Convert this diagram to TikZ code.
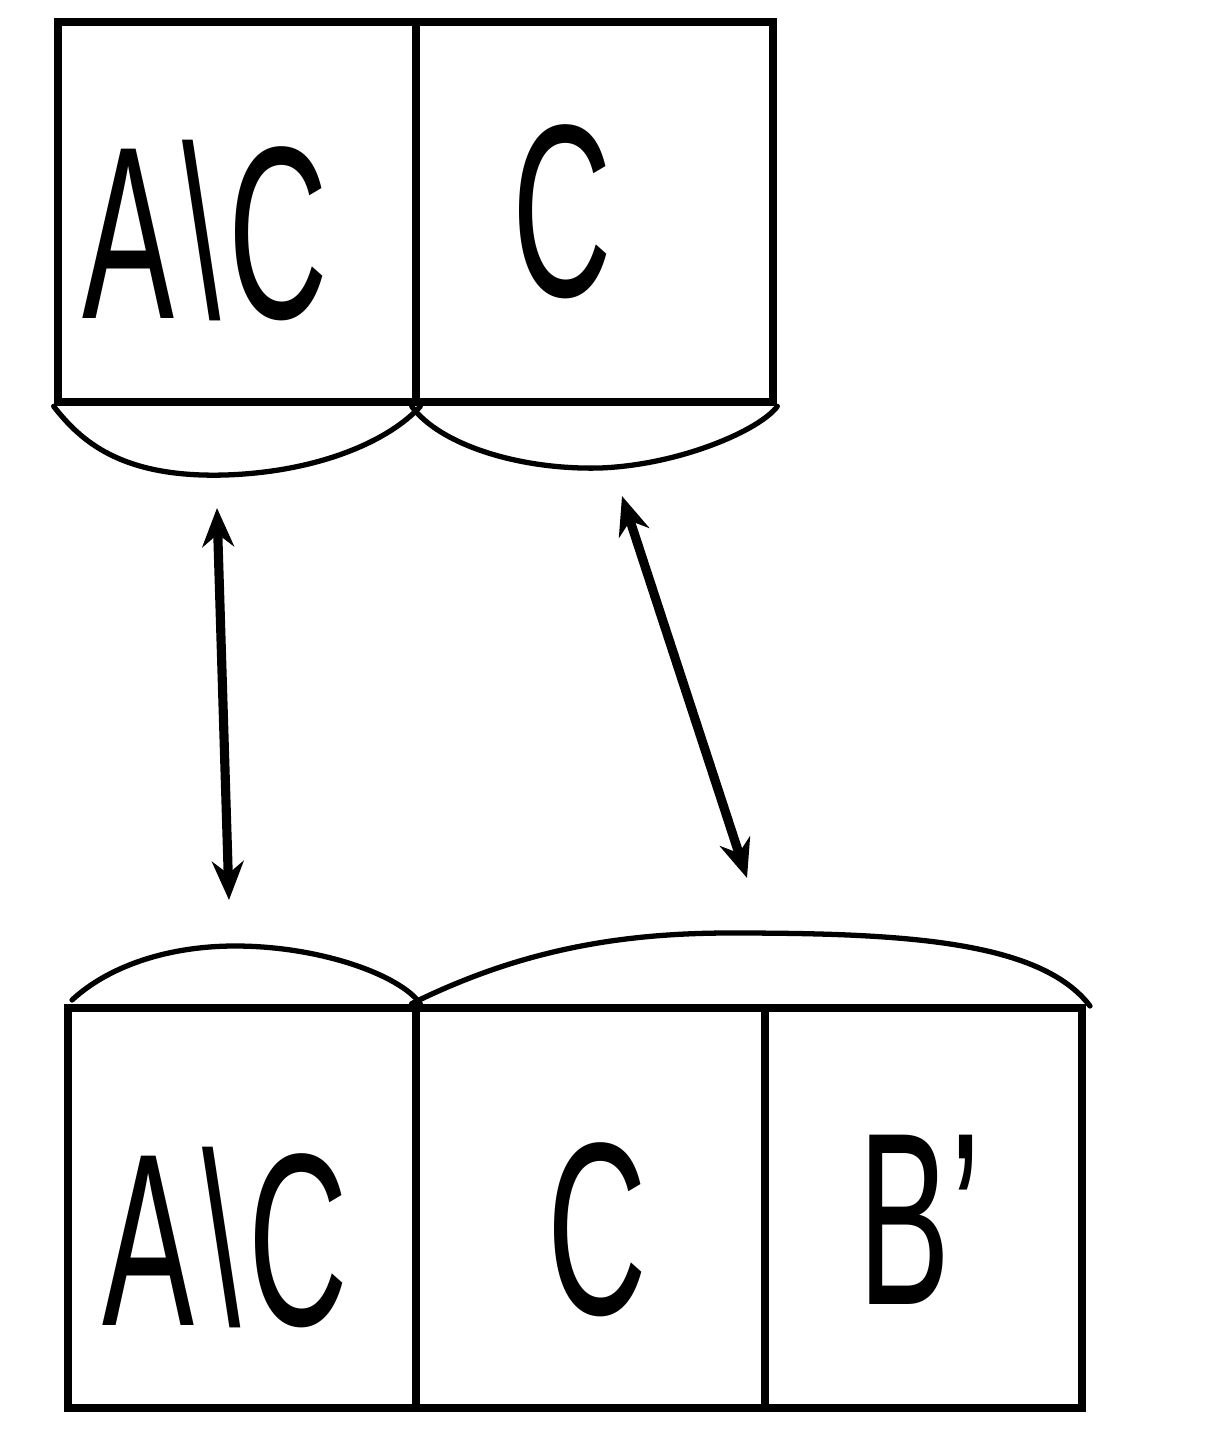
\documentclass[tikz,border=0pt]{standalone}
\usepackage{fontspec}
\setmainfont{Liberation Sans}
\usetikzlibrary{arrows.meta}
\newcommand{\handtext}[1]{\scalebox{0.56}[1]{\fontsize{70}{72}\selectfont #1}}
\begin{document}
\begin{tikzpicture}[x=0.01cm,y=-0.01cm,
  cell/.style={draw,line width=2.4pt,inner sep=0pt},
  lbl/.style={inner sep=0pt,anchor=base},
  brace/.style={line width=1.5pt,line cap=round,line join=round},
  link/.style={line width=2.6pt,{Stealth[length=11pt,width=9pt]}-{Stealth[length=11pt,width=9pt]}}]
\useasboundingbox[fill=white] (0,0) rectangle (1214,1448);
% top boxes
\node[cell,minimum width=3.58cm,minimum height=3.80cm] (t1) at (237,212) {};
\node[cell,minimum width=3.57cm,minimum height=3.80cm] (t2) at (594.5,212) {};
\node[lbl] (tl1) at (205,318) {\handtext{A\kern4pt\textbackslash\kern4pt C}};
\node[lbl] (tl2) at (562,296) {\handtext{C}};
% bottom boxes
\node[cell,minimum width=3.48cm,minimum height=4.00cm] (b1) at (242,1208) {};
\node[cell,minimum width=3.49cm,minimum height=4.00cm] (b2) at (590.5,1208) {};
\node[cell,minimum width=3.17cm,minimum height=4.00cm] (b3) at (923.5,1208) {};
\node[lbl] (bl1) at (225,1325) {\handtext{A\kern4pt\textbackslash\kern4pt C}};
\node[lbl] (bl2) at (597,1314) {\handtext{C}};
\node[lbl] (bl3) at (920,1304) {\handtext{B'}};
% braces
\coordinate (tb1) at (225,475);
\coordinate (tb2) at (600,468);
\coordinate (bb1) at (235,946);
\coordinate (bb2) at (730,933);
\draw[brace] (t1.south west) .. controls (80,440) and (120,478) .. (tb1)
  .. controls (320,472) and (390,440) .. (t1.south east);
\draw[brace] (t2.south west) .. controls (440,445) and (520,470) .. (tb2)
  .. controls (680,465) and (760,430) .. (t2.south east);
\draw[brace] (72,1000) .. controls (110,965) and (170,946) .. (bb1)
  .. controls (320,946) and (400,975) .. (b1.north east);
\draw[brace] (b2.north west) .. controls (520,950) and (620,933) .. (bb2)
  .. controls (900,933) and (1040,940) .. (1090,1006);
% arrows
\coordinate (a1s) at (217,508);
\coordinate (a1e) at (229,900);
\coordinate (a2s) at (622,496);
\coordinate (a2e) at (747,878);
\draw[link] (a1s) -- (a1e);
\draw[link] (a2s) -- (a2e);
\end{tikzpicture}
\end{document}
